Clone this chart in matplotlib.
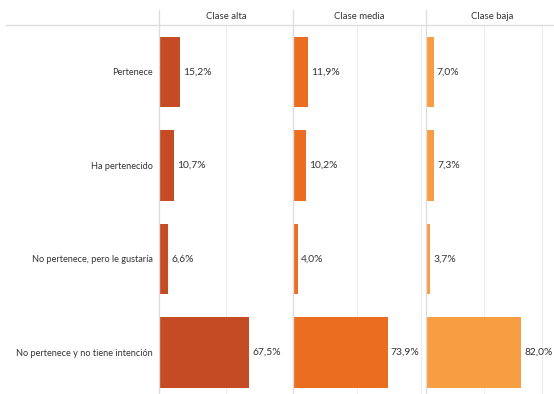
import matplotlib.pyplot as plt
from matplotlib.lines import Line2D

categorias = ["Pertenece", "Ha pertenecido", "No pertenece, pero le gustaría",
              "No pertenece y no tiene intención"]
clases = ["Clase alta", "Clase media", "Clase baja"]
alta = [15.2, 10.7, 6.6, 67.5]
media = [11.9, 10.2, 4.0, 73.9]
baja = [7.0, 7.3, 3.7, 82.0]
colores = ["#C44B24", "#EB6E20", "#F79E43"]

plt.rcParams['font.family'] = ['Lato', 'DejaVu Sans']

W, H = 554, 394
fig = plt.figure(figsize=(W / 100, H / 100), dpi=100)

# panel geometry in pixels
lefts = [159.3, 292.7, 425.6]
ancho = 133.2
top = 24.7
xmax = [93.6, 103.6, 114.4]

series = [alta, media, baja]
for i in range(3):
    ax = fig.add_axes([lefts[i] / W, 0, ancho / W, (H - top) / H])
    y = range(len(categorias))
    ax.barh(y, series[i], height=0.756, color=colores[i], zorder=2)
    for yy, v in zip(y, series[i]):
        ax.annotate(f"{v:.1f}%".replace(".", ","), (v, yy), xytext=(2.3, 0),
                    textcoords="offset points", va="center", ha="left",
                    fontsize=7.4, color="#333333")
    ax.set_xlim(0, xmax[i])
    ax.set_ylim(3.447, -0.506)
    ax.set_xticks([50, 100])
    ax.xaxis.grid(True, color="#EEEEEE", linewidth=0.8, zorder=0)
    ax.tick_params(axis="x", length=0, labelbottom=False)
    for s in ax.spines.values():
        s.set_visible(False)
    if i == 0:
        ax.set_yticks(list(y))
        ax.set_yticklabels(categorias, fontsize=6.6, color="#333333")
        ax.tick_params(axis="y", length=0, pad=4.5)
    else:
        ax.set_yticks([])
    fig.text((lefts[i] + ancho / 2) / W, 1 - 16.5 / H, clases[i],
             ha="center", va="center", fontsize=6.9, color="#333333")
    fig.add_artist(Line2D([lefts[i] / W] * 2, [0, 1 - 10 / H],
                          transform=fig.transFigure, color="#DDDDDD", linewidth=1))

fig.add_artist(Line2D([6 / W, 1], [1 - top / H] * 2, transform=fig.transFigure,
                      color="#DDDDDD", linewidth=1))

fig.savefig("out.png", dpi=100)
